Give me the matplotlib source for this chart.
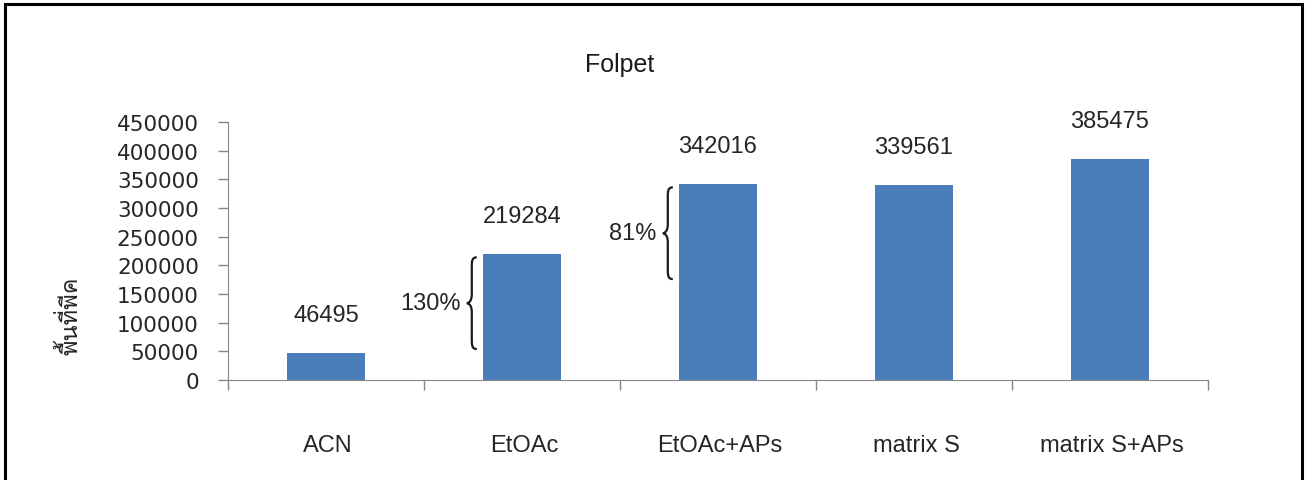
import matplotlib.pyplot as plt
from matplotlib import font_manager
from matplotlib.ft2font import FT2Font
from matplotlib.path import Path
from matplotlib.patches import PathPatch, Rectangle

# Data
categories = ['ACN', 'EtOAc', 'EtOAc+APs', 'matrix S', 'matrix S+APs']
peak_area = [46495, 219284, 342016, 339561, 385475]
y_ticks = [0, 50000, 100000, 150000, 200000, 250000, 300000, 350000, 400000, 450000]
y_label = 'พื้นที่พีค'

# brace annotations: (left of bar index, y bottom, y top, text)
braces = [(1, 54000, 214000, '130%'), (2, 176000, 336000, '81%')]

plt.rcParams['font.family'] = ['Liberation Sans', 'DejaVu Sans']
text_color = '#262626'
axis_color = '#868686'


def find_family(text):
    # installed font covering every character of text, regular weight first
    need = {ord(ch) for ch in text}
    entries = sorted(font_manager.fontManager.ttflist,
                     key=lambda e: (e.style != 'normal', abs(int(e.weight) - 400)
                                    if str(e.weight).isdigit() else 500))
    for entry in entries:
        try:
            cmap = FT2Font(entry.fname).get_charmap()
        except Exception:
            continue
        if need <= set(cmap):
            return entry.name
    return 'DejaVu Sans'


thai_family = find_family(y_label)

fig = plt.figure(figsize=(13.07, 4.81), dpi=100)
ax = fig.add_axes([228 / 1307, 1 - 381 / 481, 980 / 1307, 258 / 481])

x = list(range(len(categories)))
ax.bar(x, peak_area, width=0.4, color='#4A7EBB', zorder=2)

# value labels above bars
for xi, v in zip(x, peak_area):
    ax.annotate(str(v), (xi, v), xytext=(0, 38), textcoords='offset pixels',
                ha='center', va='center', fontsize=17, color=text_color)

ax.set_xlim(-0.5, len(categories) - 0.5)
ax.set_ylim(0, 450000)
ax.set_yticks(y_ticks)
ax.set_yticklabels([str(t) for t in y_ticks], fontsize=15.5, color=text_color,
                   fontfamily='DejaVu Sans')
ax.tick_params(axis='y', length=7, width=1, color=axis_color, pad=14)

# x ticks at category boundaries, labels placed far below the axis
ax.set_xticks([i - 0.5 for i in range(len(categories) + 1)])
ax.set_xticklabels([])
ax.tick_params(axis='x', length=7, width=1, color=axis_color)
for xi, name in zip(x, categories):
    ax.annotate(name, (xi, 0), xytext=(2, -65), textcoords='offset pixels',
                ha='center', va='center', fontsize=17, color=text_color,
                annotation_clip=False)

for side in ['top', 'right']:
    ax.spines[side].set_visible(False)
ax.spines['left'].set_color(axis_color)
ax.spines['bottom'].set_color(axis_color)


def draw_brace(ax, xi, y0, y1, label):
    # curly brace opening to the left, just left of bar xi
    px = 980 / 5  # pixels per category
    py = 258 / 450000  # pixels per data unit
    xr = xi - 0.2 - 6 / px
    w = 10 / px
    c = 9 / py
    ym = (y0 + y1) / 2
    verts = [
        (xr, y1),
        (xr - w / 2, y1), (xr - w / 2, y1 - c / 2), (xr - w / 2, y1 - c),
        (xr - w / 2, ym + c),
        (xr - w / 2, ym), (xr - w, ym), (xr - w, ym),
        (xr - w, ym), (xr - w / 2, ym), (xr - w / 2, ym - c),
        (xr - w / 2, y0 + c),
        (xr - w / 2, y0 + c / 2), (xr - w / 2, y0), (xr, y0),
    ]
    codes = [Path.MOVETO,
             Path.CURVE4, Path.CURVE4, Path.CURVE4,
             Path.LINETO,
             Path.CURVE4, Path.CURVE4, Path.CURVE4,
             Path.CURVE4, Path.CURVE4, Path.CURVE4,
             Path.LINETO,
             Path.CURVE4, Path.CURVE4, Path.CURVE4]
    ax.add_patch(PathPatch(Path(verts, codes), fill=False, lw=1.6,
                           edgecolor='#1a1a1a', clip_on=False, zorder=3))
    ax.annotate(label, (xr - w, ym), xytext=(-6, 0), textcoords='offset pixels',
                ha='right', va='center', fontsize=17, color=text_color)


for xi, y0, y1, label in braces:
    draw_brace(ax, xi, y0, y1, label)

# title and y label
fig.text(620 / 1307, 1 - 65 / 481, 'Folpet', ha='center', va='center',
         fontsize=18, color='#1a1a1a')
fig.text(70 / 1307, 1 - 316 / 481, y_label, rotation=90, ha='center',
         va='center', fontsize=17, color=text_color,
         fontfamily=[thai_family, 'DejaVu Sans'], fontweight='normal')

# outer frame
fig.patches.append(Rectangle((5 / 1307, -0.02), 1297 / 1307, 1 - 5 / 481 + 0.02,
                             transform=fig.transFigure, fill=False,
                             edgecolor='black', lw=2.2))

fig.savefig('out.png', dpi=100)
